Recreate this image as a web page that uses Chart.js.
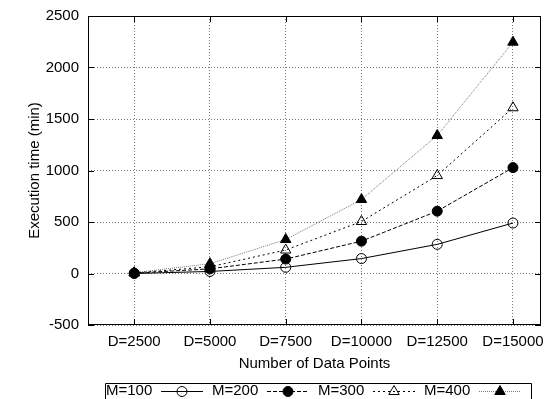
<!DOCTYPE html>
<html>
<head>
<meta charset="utf-8">
<script src="https://cdn.jsdelivr.net/npm/chart.js@4/dist/chart.umd.min.js"></script>
<style>
  body { margin: 0; background: #fff; }
</style>
</head>
<body>
<canvas id="timeChart" width="548" height="399"></canvas>
<script>
// number of data points D (x positions)
const dataPoints = [2500, 5000, 7500, 10000, 12500, 15000];
const xTickLabels = ['D=2500', 'D=5000', 'D=7500', 'D=10000', 'D=12500', 'D=15000'];
const yTicks = [-500, 0, 500, 1000, 1500, 2000, 2500];

// execution time in minutes, one list per M
const seriesNames = ['M=100', 'M=200', 'M=300', 'M=400'];
const m100 = [0, 20, 60, 145, 283, 490];
const m200 = [3, 45, 140, 314, 605, 1028];
const m300 = [5, 65, 228, 505, 951, 1609];
const m400 = [8, 95, 330, 718, 1340, 2246];

const FONT = { family: '"Liberation Sans", Arial, Helvetica, sans-serif', size: 15 };

function toPoints(vals) {
    return vals.map((v, i) => ({ x: dataPoints[i], y: v }));
}

// box around the plot with gnuplot style inward ticks
const framePlugin = {
    id: 'frame',
    beforeDatasetsDraw(chart) {
        const { ctx, chartArea: a, scales: { x, y } } = chart;
        const len = 6;
        ctx.save();
        ctx.strokeStyle = '#000';
        ctx.lineWidth = 1;
        ctx.strokeRect(a.left + 0.5, a.top + 0.5, a.right - a.left - 1, a.bottom - a.top - 1);
        ctx.beginPath();
        x.ticks.forEach(t => {
            const px = Math.round(x.getPixelForValue(t.value)) + 0.5;
            ctx.moveTo(px, a.bottom); ctx.lineTo(px, a.bottom - len);
            ctx.moveTo(px, a.top); ctx.lineTo(px, a.top + len);
        });
        y.ticks.forEach(t => {
            const py = Math.round(y.getPixelForValue(t.value)) + 0.5;
            ctx.moveTo(a.left, py); ctx.lineTo(a.left + len, py);
            ctx.moveTo(a.right, py); ctx.lineTo(a.right - len, py);
        });
        ctx.stroke();
        ctx.restore();
    }
};

// single row key in a box under the axis title
const keyPlugin = {
    id: 'keyRow',
    afterDraw(chart) {
        const ctx = chart.ctx;
        const left = 105, right = 531, top = 383, midY = 391, step = 106;
        ctx.save();
        ctx.strokeStyle = '#000';
        ctx.lineWidth = 1;
        ctx.beginPath();
        ctx.moveTo(left + 0.5, 400);
        ctx.lineTo(left + 0.5, top + 0.5);
        ctx.lineTo(right + 0.5, top + 0.5);
        ctx.lineTo(right + 0.5, 400);
        ctx.stroke();
        ctx.font = FONT.size + 'px ' + FONT.family;
        ctx.fillStyle = '#000';
        ctx.textBaseline = 'middle';
        chart.data.datasets.forEach((ds, i) => {
            const x0 = left + i * step;
            ctx.fillText(ds.label, x0 + 1, midY);
            ctx.save();
            ctx.strokeStyle = ds.borderColor;
            ctx.lineWidth = ds.borderWidth;
            ctx.setLineDash(ds.borderDash);
            ctx.beginPath();
            ctx.moveTo(x0 + 56, midY + 0.5);
            ctx.lineTo(x0 + 98, midY + 0.5);
            ctx.stroke();
            ctx.restore();
            ctx.save();
            ctx.fillStyle = ds.pointBackgroundColor;
            ctx.strokeStyle = ds.pointBorderColor;
            ctx.lineWidth = 1;
            Chart.helpers.drawPoint(ctx, {
                pointStyle: ds.pointStyle,
                radius: ds.pointRadius,
                rotation: 0,
                borderWidth: 1
            }, x0 + 77, midY + 0.5);
            ctx.restore();
        });
        ctx.restore();
    }
};

const lineStyles = [
    { dash: [], color: '#000', style: 'circle', fill: 'rgba(0,0,0,0)', r: 5 },
    { dash: [4, 2], color: '#000', style: 'circle', fill: '#000', r: 5 },
    { dash: [2, 3], color: '#000', style: 'triangle', fill: 'rgba(0,0,0,0)', r: 6 },
    { dash: [1, 1], color: '#777', style: 'triangle', fill: '#000', r: 6 }
];

const datasets = [m100, m200, m300, m400].map((vals, i) => ({
    label: seriesNames[i],
    data: toPoints(vals),
    borderColor: lineStyles[i].color,
    borderWidth: 1,
    borderDash: lineStyles[i].dash,
    pointStyle: lineStyles[i].style,
    pointRadius: lineStyles[i].r,
    pointHoverRadius: lineStyles[i].r,
    pointBorderWidth: 1,
    pointBorderColor: '#000',
    pointBackgroundColor: lineStyles[i].fill,
    tension: 0,
    fill: false
}));

new Chart(document.getElementById('timeChart'), {
    type: 'line',
    data: { datasets: datasets },
    options: {
        responsive: false,
        animation: false,
        events: [],
        layout: { padding: { top: 16, right: 3, left: 0, bottom: 0 } },
        scales: {
            x: {
                type: 'linear',
                min: 975,
                max: 15925,
                afterBuildTicks: s => { s.ticks = dataPoints.map(v => ({ value: v })); },
                afterFit: s => { s.height = 74; s.paddingLeft = 0; s.paddingRight = 0; },
                ticks: {
                    color: '#000',
                    font: FONT,
                    padding: 8,
                    maxRotation: 0,
                    callback: v => xTickLabels[dataPoints.indexOf(v)]
                },
                grid: { color: '#777', lineWidth: 1, drawTicks: false },
                border: { display: false, dash: [1, 2] },
                title: {
                    display: true,
                    text: 'Number of Data Points',
                    color: '#000',
                    font: FONT,
                    padding: { top: 26, bottom: 26 }
                }
            },
            y: {
                min: -500,
                max: 2500,
                afterBuildTicks: s => { s.ticks = yTicks.map(v => ({ value: v })); },
                afterFit: s => { s.width = 88; s.paddingTop = 0; s.paddingBottom = 0; },
                ticks: { color: '#000', font: FONT, padding: 9, callback: v => String(v) },
                grid: { color: '#777', lineWidth: 1, drawTicks: false },
                border: { display: false, dash: [1, 2] },
                title: {
                    display: true,
                    text: 'Execution time (min)',
                    color: '#000',
                    font: FONT,
                    padding: { top: 26, bottom: 26 }
                }
            }
        },
        plugins: {
            legend: { display: false },
            tooltip: { enabled: false }
        }
    },
    plugins: [framePlugin, keyPlugin]
});
</script>
</body>
</html>
